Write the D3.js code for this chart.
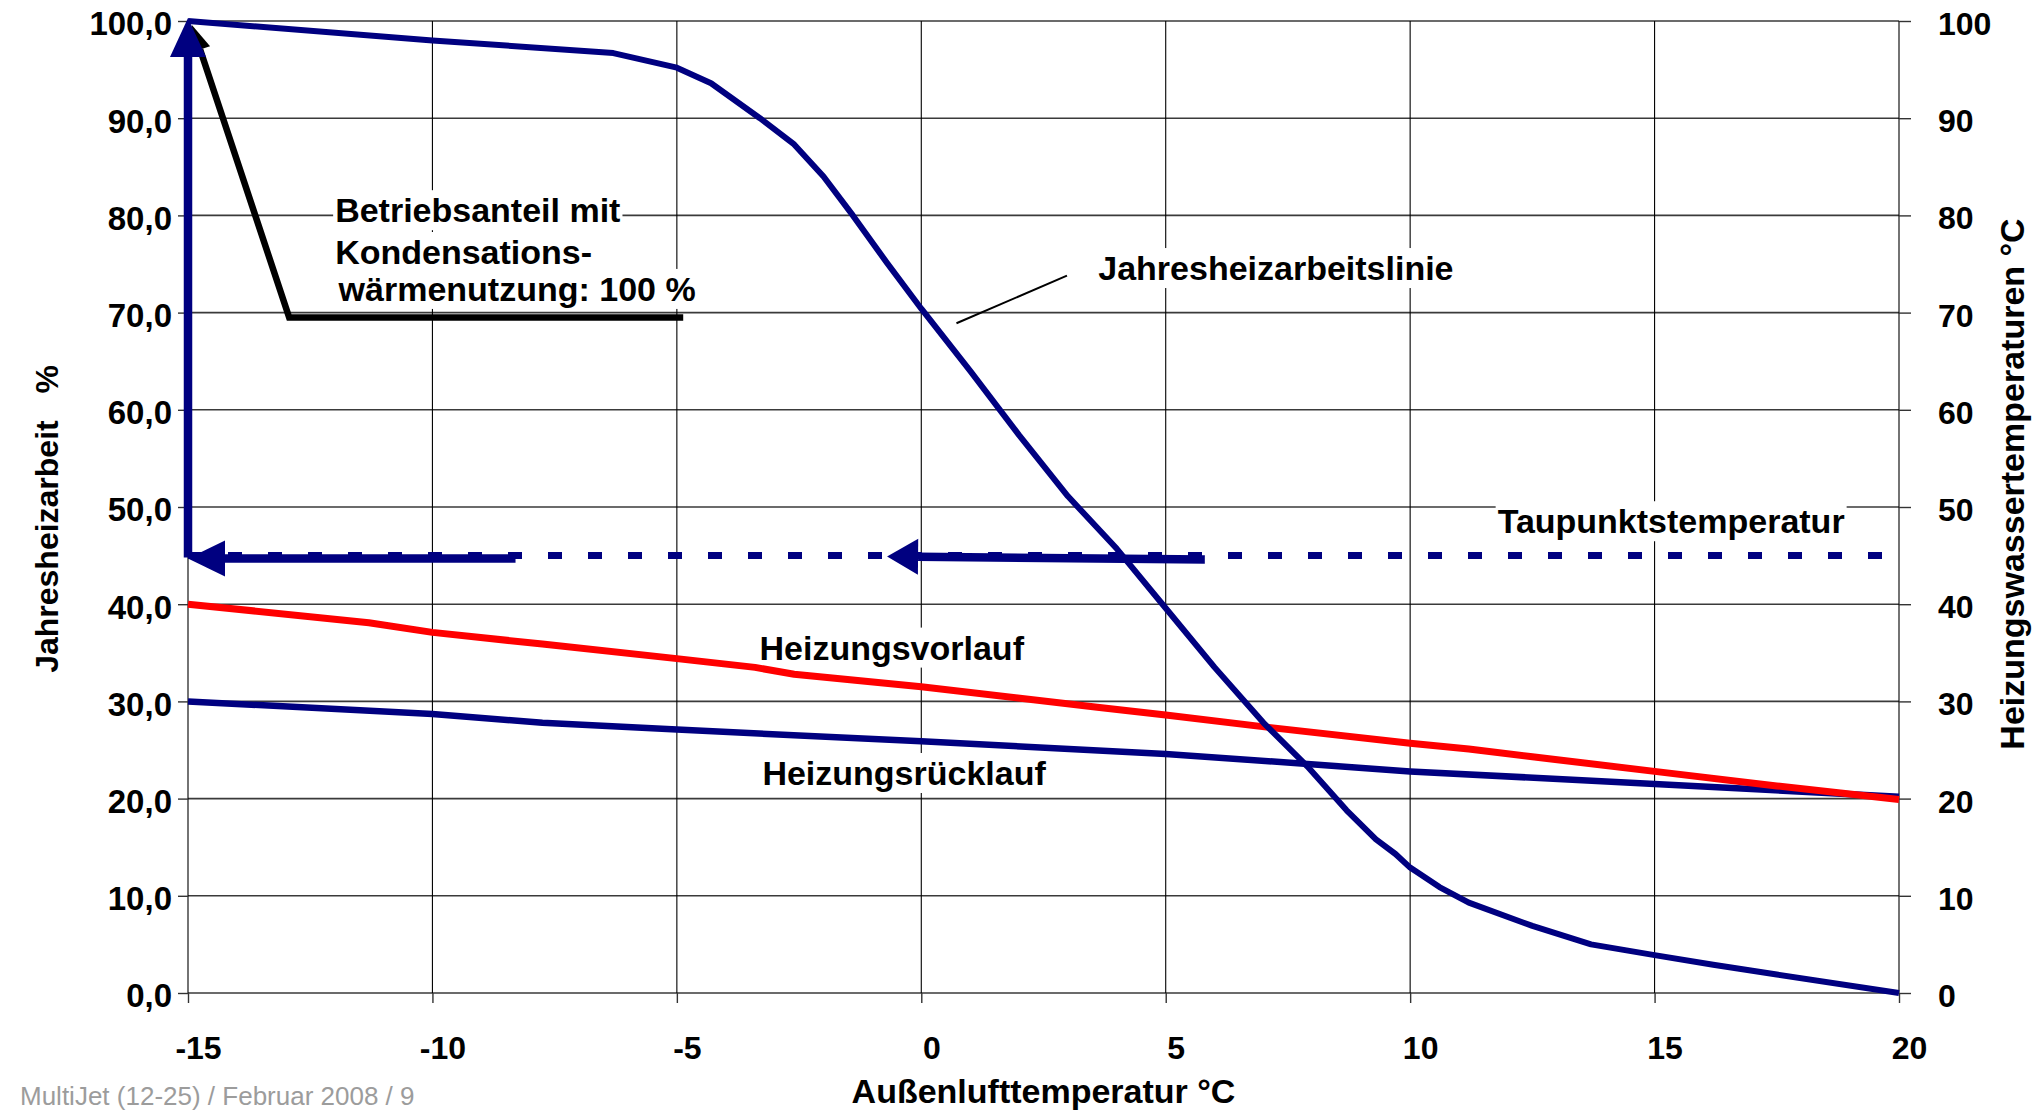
<!DOCTYPE html>
<html lang="de">
<head>
<meta charset="utf-8">
<title>Jahresheizarbeit und Heizungswassertemperaturen</title>
<script src="https://cdn.jsdelivr.net/npm/d3@7"></script>
<style>
  body { margin: 0; background: #fff; }
  svg { display: block; font-family: "Liberation Sans", Arial, sans-serif; }
</style>
</head>
<body>
<div id="chart"></div>
<script>
// Außenlufttemperatur °C -> Jahresheizarbeit %
const jahresTemp   = [-15, -10, -6.3, -5, -4.3, -3.3, -2.6, -2, -1.4, -0.7, 0, 1, 2, 3, 4, 4.9, 6, 7, 7.9, 8.7, 9.3, 9.7, 10, 10.6, 11.2, 12.5, 13.7, 15, 16.2, 17.5, 20];
const jahresArbeit = [100, 98.0, 96.7, 95.2, 93.6, 90.0, 87.3, 84.0, 80.0, 75.1, 70.4, 64.0, 57.4, 51.1, 45.7, 40.2, 33.5, 27.8, 23.3, 18.8, 15.8, 14.3, 12.9, 10.9, 9.3, 6.9, 5.0, 3.9, 2.9, 1.9, 0];

// Heizungsvorlauf °C
const vorlaufTemp  = [-15, -11.3, -10, -7.75, -5, -3.4, -2.6, 0, 3.6, 5, 7.15, 10, 11.2, 12.5, 15, 17.5, 20];
const vorlaufWerte = [40, 38.1, 37.1, 35.9, 34.4, 33.5, 32.8, 31.5, 29.4, 28.6, 27.3, 25.7, 25.1, 24.3, 22.8, 21.3, 19.9];

// Heizungsrücklauf °C
const ruecklaufTemp  = [-15, -10, -7.75, -5, 0, 5, 10, 15, 20];
const ruecklaufWerte = [30, 28.7, 27.8, 27.1, 25.9, 24.6, 22.8, 21.5, 20.2];

// Taupunktstemperatur °C
const taupunkt = 45;

const xTicks = [-15, -10, -5, 0, 5, 10, 15, 20];
const yTicks = [0, 10, 20, 30, 40, 50, 60, 70, 80, 90, 100];

// annotation anchors in data units [temp, value]
const pfeilHoch   = [[-15, 44.8], [-15, 100.3]];
const pfeilLinks  = [[-8.3, 44.7], [-15, 44.7]];
const pfeilMitte  = [[5.8, 44.6], [-0.7, 44.9]];
const hinweisPfad = [[-4.87, 69.5], [-12.93, 69.5], [-14.92, 99.6]];
const leaderPfad  = [[2.98, 73.8], [0.72, 68.9]];

const beschriftungen = [
    { text: 'Betriebsanteil mit', t: -11.99, v: 79.3 },
    { text: 'Kondensations-', t: -11.99, v: 75.0 },
    { text: 'wärmenutzung: 100 %', t: -11.92, v: 71.2 },
    { text: 'Jahresheizarbeitslinie', t: 3.62, v: 73.35 },
    { text: 'Taupunktstemperatur', t: 11.79, v: 47.3 },
    { text: 'Heizungsvorlauf', t: -3.31, v: 34.3 },
    { text: 'Heizungsrücklauf', t: -3.25, v: 21.4 }
];

const NAVY = '#000080';
const RED = '#ff0000';

const totalWidth = 2039, totalHeight = 1111;
const margin = { top: 21, right: 140, bottom: 118, left: 188 };
const width = totalWidth - margin.left - margin.right;
const height = totalHeight - margin.top - margin.bottom;

const svg = d3.select('#chart')
    .append('svg')
    .attr('width', totalWidth)
    .attr('height', totalHeight);

svg.append('rect')
    .attr('width', totalWidth)
    .attr('height', totalHeight)
    .attr('fill', '#fff');

const g = svg.append('g')
    .attr('transform', `translate(${margin.left},${margin.top})`);

const x = d3.scaleLinear().domain([-15, 20]).range([0, width]);
const y = d3.scaleLinear().domain([0, 100]).range([height, 0]);

// German decimals, plain hyphen as minus sign
const de = d3.formatLocale({ decimal: ',', thousands: '.', grouping: [3], currency: ['', ' €'], minus: '-' });
const fmtLeft = de.format('.1f');
const fmtInt = de.format('d');

// grid
g.append('g')
    .selectAll('line')
    .data(yTicks)
    .enter()
    .append('line')
    .attr('x1', 0)
    .attr('x2', width)
    .attr('y1', d => y(d))
    .attr('y2', d => y(d))
    .attr('stroke', '#3a3a3a')
    .attr('stroke-width', 1.6);

g.append('g')
    .selectAll('line')
    .data(xTicks)
    .enter()
    .append('line')
    .attr('x1', d => x(d))
    .attr('x2', d => x(d))
    .attr('y1', 0)
    .attr('y2', height)
    .attr('stroke', '#000')
    .attr('stroke-width', 1.1);

// axes
function styleAxis(sel, size) {
    sel.select('.domain').remove();
    sel.attr('font-family', '"Liberation Sans", Arial, sans-serif')
        .attr('font-size', size)
        .attr('font-weight', 'bold');
    sel.selectAll('.tick line').attr('stroke', '#333').attr('stroke-width', 1.4);
    sel.selectAll('.tick text').attr('fill', '#000');
}

g.append('g')
    .call(d3.axisLeft(y).tickValues(yTicks).tickSize(10).tickPadding(6).tickFormat(fmtLeft))
    .call(sel => styleAxis(sel, 33))
    .selectAll('.tick text')
    .attr('dy', '0.42em');

g.append('g')
    .attr('transform', `translate(${width},0)`)
    .call(d3.axisRight(y).tickValues(yTicks).tickSize(12).tickPadding(27).tickFormat(fmtInt))
    .call(sel => styleAxis(sel, 32))
    .selectAll('.tick text')
    .attr('dy', '0.42em');

g.append('g')
    .attr('transform', `translate(0,${height})`)
    .call(d3.axisBottom(x).tickValues(xTicks).tickSize(10).tickPadding(33).tickFormat(fmtInt))
    .call(sel => styleAxis(sel, 32))
    .selectAll('.tick text')
    .attr('dx', 10);

// axis titles
g.append('text')
    .attr('x', width / 2)
    .attr('y', height + 110)
    .attr('text-anchor', 'middle')
    .attr('font-size', 34)
    .attr('font-weight', 'bold')
    .text('Außenlufttemperatur °C');

g.append('text')
    .attr('transform', `translate(${58 - margin.left},${519 - margin.top}) rotate(-90)`)
    .attr('text-anchor', 'middle')
    .attr('font-size', 32)
    .attr('font-weight', 'bold')
    .style('white-space', 'pre')
    .text('Jahresheizarbeit   %');

g.append('text')
    .attr('transform', `translate(${width + 125},${484 - margin.top}) rotate(-90)`)
    .attr('text-anchor', 'middle')
    .attr('font-size', 34)
    .attr('font-weight', 'bold')
    .text('Heizungswassertemperaturen °C');

// footer
svg.append('text')
    .attr('x', 20)
    .attr('y', totalHeight - 6)
    .attr('font-size', 26)
    .attr('fill', '#9c9c9c')
    .text('MultiJet (12-25) / Februar 2008 / 9');

// label boxes and texts
const boxLayer = g.append('g');
const markLayer = g.append('g');
const textLayer = g.append('g');

beschriftungen.forEach(b => {
    const t = textLayer.append('text')
        .attr('x', x(b.t))
        .attr('y', y(b.v))
        .attr('font-size', 34)
        .attr('font-weight', 'bold')
        .attr('fill', '#000')
        .text(b.text);
    const bb = t.node().getBBox();
    boxLayer.append('rect')
        .attr('x', bb.x - 2)
        .attr('y', bb.y - 1)
        .attr('width', bb.width + 4)
        .attr('height', bb.height + 2)
        .attr('fill', '#fff');
});

// series
const line = (xs, ys) => d3.line()
    .x((d, i) => x(xs[i]))
    .y(d => y(d))(ys);

markLayer.append('path')
    .attr('d', line(ruecklaufTemp, ruecklaufWerte))
    .attr('fill', 'none')
    .attr('stroke', NAVY)
    .attr('stroke-width', 6.5)
    .attr('stroke-linejoin', 'round');

markLayer.append('path')
    .attr('d', line(vorlaufTemp, vorlaufWerte))
    .attr('fill', 'none')
    .attr('stroke', RED)
    .attr('stroke-width', 7)
    .attr('stroke-linejoin', 'round');

// arrows
function drawArrow(pts, color, strokeW, headLen, headW) {
    const p = pts.map(d => [x(d[0]), y(d[1])]);
    const tip = p[p.length - 1];
    const prev = p[p.length - 2];
    const dx = tip[0] - prev[0], dy = tip[1] - prev[1];
    const len = Math.hypot(dx, dy);
    const ux = dx / len, uy = dy / len;
    const base = [tip[0] - ux * headLen, tip[1] - uy * headLen];
    const shaft = p.slice(0, -1).concat([base]);
    markLayer.append('path')
        .attr('d', d3.line()(shaft))
        .attr('fill', 'none')
        .attr('stroke', color)
        .attr('stroke-width', strokeW)
        .attr('stroke-linejoin', 'miter');
    const nx = -uy * headW / 2, ny = ux * headW / 2;
    markLayer.append('path')
        .attr('d', d3.line()([tip, [base[0] + nx, base[1] + ny], [base[0] - nx, base[1] - ny]]) + 'Z')
        .attr('fill', color);
}

drawArrow(pfeilLinks, NAVY, 8.5, 37, 36);
drawArrow(pfeilMitte, NAVY, 8.5, 31, 36);

markLayer.append('line')
    .attr('x1', x(-15))
    .attr('x2', x(20))
    .attr('y1', y(taupunkt))
    .attr('y2', y(taupunkt))
    .attr('stroke', NAVY)
    .attr('stroke-width', 7)
    .attr('stroke-dasharray', '14 26');

drawArrow(hinweisPfad, '#000', 6.5, 26, 21);
drawArrow(pfeilHoch, NAVY, 8.5, 39, 36);

markLayer.append('path')
    .attr('d', line(jahresTemp, jahresArbeit))
    .attr('fill', 'none')
    .attr('stroke', NAVY)
    .attr('stroke-width', 6)
    .attr('stroke-linejoin', 'round');

markLayer.append('path')
    .attr('d', d3.line()(leaderPfad.map(d => [x(d[0]), y(d[1])])))
    .attr('stroke', '#000')
    .attr('stroke-width', 2);
</script>
</body>
</html>
